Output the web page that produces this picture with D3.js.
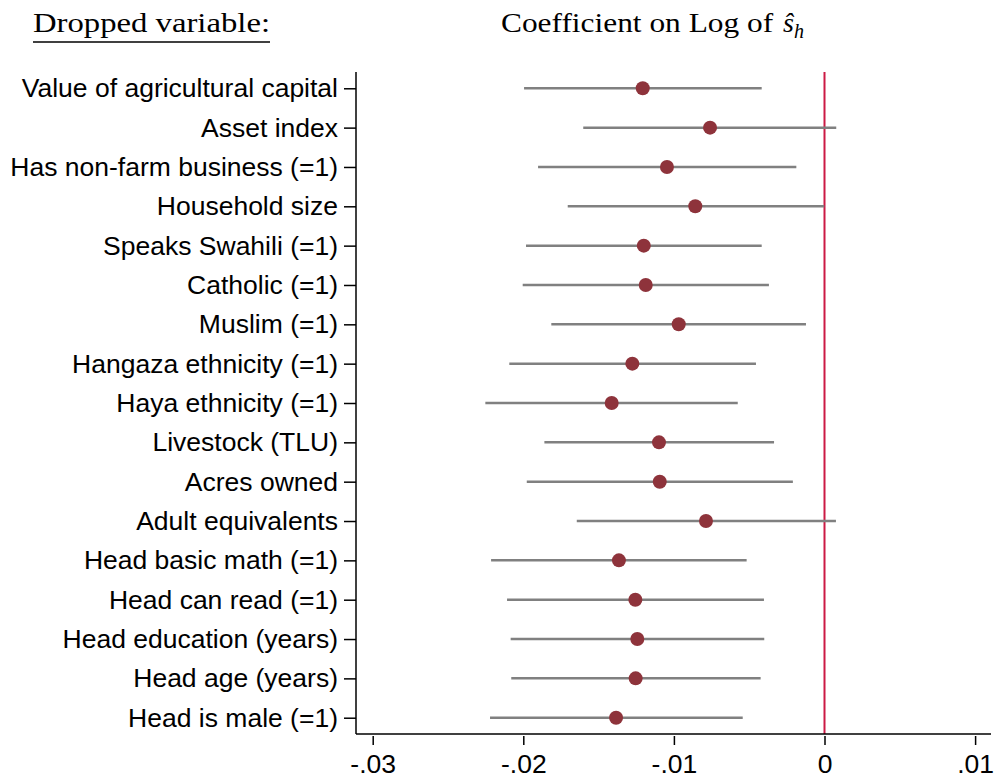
<!DOCTYPE html>
<html>
<head>
<meta charset="utf-8">
<script src="https://cdn.jsdelivr.net/npm/d3@7"></script>
<style>
  body { margin: 0; background: #fff; }
  .axis text { font-family: "Liberation Sans", Arial, sans-serif; font-size: 26.5px; fill: #000; }
  .axis line, .axis path { stroke: #000; stroke-width: 1.5; }
</style>
</head>
<body>
<svg id="chart" width="994" height="780"></svg>
<script>
// dropped variables, top to bottom
var variables = [
  "Value of agricultural capital", "Asset index", "Has non-farm business (=1)",
  "Household size", "Speaks Swahili (=1)", "Catholic (=1)", "Muslim (=1)",
  "Hangaza ethnicity (=1)", "Haya ethnicity (=1)", "Livestock (TLU)", "Acres owned",
  "Adult equivalents", "Head basic math (=1)", "Head can read (=1)",
  "Head education (years)", "Head age (years)", "Head is male (=1)"
];
var coef = [-0.01207, -0.0076, -0.01046, -0.00858, -0.0120, -0.01187, -0.00968,
  -0.01276, -0.01413, -0.01099, -0.01094, -0.00787, -0.01365, -0.01256,
  -0.01243, -0.01254, -0.01384];
var ciLow = [-0.01995, -0.01602, -0.01902, -0.01705, -0.01982, -0.02004, -0.01814,
  -0.02093, -0.02252, -0.0186, -0.01977, -0.01645, -0.02214, -0.02108,
  -0.02084, -0.0208, -0.02221];
var ciHigh = [-0.00417, 0.00078, -0.00187, -0.00002, -0.00417, -0.00369, -0.00123,
  -0.00455, -0.00576, -0.00335, -0.0021, 0.00076, -0.00517, -0.00402,
  -0.0040, -0.00424, -0.00543];
var xTicks = [-0.03, -0.02, -0.01, 0, 0.01];
var xTickLabels = ["-.03", "-.02", "-.01", "0", ".01"];

var svg = d3.select("#chart");
var plot = { left: 356, right: 991, top: 72, bottom: 734 };

var x = d3.scaleLinear()
  .domain([(plot.left - 824.5) / 15060, (plot.right - 824.5) / 15060])
  .range([plot.left, plot.right]);
var y = d3.scalePoint()
  .domain(variables)
  .range([plot.top, plot.bottom])
  .padding(0.414);

var rows = variables.map(function (v, i) {
  return { name: v, b: coef[i], lo: ciLow[i], hi: ciHigh[i] };
});

// titles
var title = svg.append("g").attr("font-family", "'Liberation Serif', serif");
title.append("text")
  .attr("x", 33).attr("y", 32)
  .attr("font-size", 28)
  .attr("textLength", 237)
  .attr("lengthAdjust", "spacingAndGlyphs")
  .text("Dropped variable:");
title.append("line")
  .attr("x1", 33).attr("x2", 270).attr("y1", 42).attr("y2", 42)
  .attr("stroke", "#000").attr("stroke-width", 1.3);

var t2 = title.append("text")
  .attr("x", 501).attr("y", 32)
  .attr("font-size", 28);
t2.append("tspan").text("Coefficient on Log of ")
  .attr("textLength", 280).attr("lengthAdjust", "spacingAndGlyphs");
t2.append("tspan").attr("font-style", "italic").attr("dx", 2).text("\u015D");
t2.append("tspan").attr("font-style", "italic").attr("font-size", 20).attr("dy", 6).text("h");

// zero reference line
svg.append("line")
  .attr("x1", x(0)).attr("x2", x(0))
  .attr("y1", plot.top).attr("y2", plot.bottom)
  .attr("stroke", "#cc1a45").attr("stroke-width", 2);

// confidence intervals
svg.append("g").selectAll("line")
  .data(rows)
  .enter().append("line")
  .attr("x1", function (d) { return x(d.lo); })
  .attr("x2", function (d) { return x(d.hi); })
  .attr("y1", function (d) { return y(d.name); })
  .attr("y2", function (d) { return y(d.name); })
  .attr("stroke", "#808080")
  .attr("stroke-width", 2.5);

// point estimates
svg.append("g").selectAll("circle")
  .data(rows)
  .enter().append("circle")
  .attr("cx", function (d) { return x(d.b); })
  .attr("cy", function (d) { return y(d.name); })
  .attr("r", 7)
  .attr("fill", "#8e333b");

// axes
svg.append("g")
  .attr("class", "axis")
  .attr("transform", "translate(0," + (plot.bottom + 2) + ")")
  .call(d3.axisBottom(x).tickValues(xTicks).tickSize(9).tickPadding(9)
    .tickFormat(function (d, i) { return xTickLabels[i]; }))
  .call(function (g) { g.select(".domain").remove(); });

svg.append("g")
  .attr("class", "axis")
  .attr("transform", "translate(" + plot.left + ",0)")
  .call(d3.axisLeft(y).tickSize(12).tickPadding(6))
  .call(function (g) { g.select(".domain").remove(); });

svg.append("line")
  .attr("x1", plot.left).attr("x2", plot.left)
  .attr("y1", plot.top).attr("y2", plot.bottom)
  .attr("stroke", "#000").attr("stroke-width", 1.5);
svg.append("line")
  .attr("x1", plot.left).attr("x2", plot.right)
  .attr("y1", plot.bottom).attr("y2", plot.bottom)
  .attr("stroke", "#000").attr("stroke-width", 1.5);
</script>
</body>
</html>
